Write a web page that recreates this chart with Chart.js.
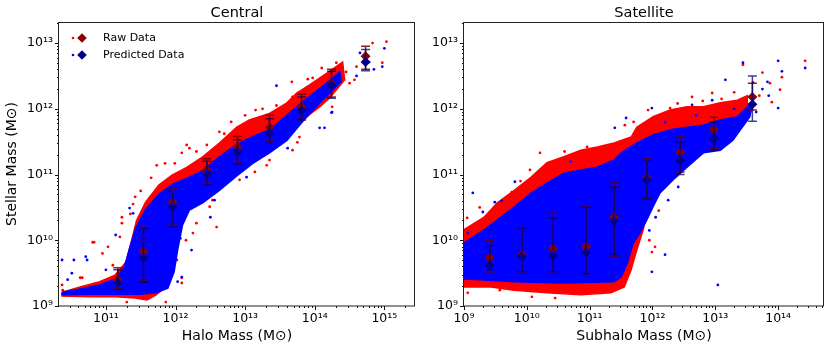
<!DOCTYPE html>
<html><head><meta charset="utf-8">
<script src="https://cdn.jsdelivr.net/npm/chart.js@4.4.1/dist/chart.umd.min.js"></script>
<style>
html,body{margin:0;padding:0;background:#fff;width:830px;height:350px;overflow:hidden}
#c1{position:absolute;left:0;top:0;width:420px;height:350px}
#c2{position:absolute;left:415px;top:0;width:415px;height:350px}
</style></head><body>
<div id="c1"><canvas id="left"></canvas></div>
<div id="c2"><canvas id="right"></canvas></div>
<script>
// ---------- text ----------
const panelTitles = ['Central', 'Satellite'];
const xAxisTitles = ['Halo Mass (M\u2299)', 'Subhalo Mass (M\u2299)'];
const yAxisTitle = 'Stellar Mass (M\u2299)';
const legendLabels = ['Raw Data', 'Predicted Data'];

// ---------- axis ranges (log10) ----------
const centralXRange = [10.326, 15.44];
const satXRange = [9.0, 14.73];
const yRange = [9.0, 13.32];

// ---------- dense cloud outlines (log10 Mhalo, log10 Mstar) ----------
const centralRawEnv = [
[10.37,9.21],[10.63,9.29],[10.91,9.37],[11.13,9.47],[11.29,9.67],[11.37,10.00],[11.44,10.30],[11.57,10.58],[11.76,10.84],[11.95,10.99],[12.16,11.11],[12.39,11.27],[12.63,11.48],[12.88,11.72],[13.06,11.83],[13.35,11.93],[13.60,12.09],[13.74,12.24],[13.92,12.36],[14.17,12.54],[14.40,12.71],
[14.43,12.44],[14.21,12.16],[14.07,12.03],[13.82,11.83],[13.60,11.57],[13.35,11.37],[13.11,11.22],[12.88,11.02],[12.63,10.81],[12.39,10.61],[12.20,10.49],[12.09,10.31],[12.00,9.93],[11.95,9.55],[11.86,9.29],[11.72,9.17],[11.59,9.09],[11.42,9.12],[11.13,9.14],[10.77,9.14],[10.37,9.15]];
const centralPredEnv = [
[10.37,9.21],[10.63,9.26],[10.91,9.32],[11.13,9.41],[11.26,9.58],[11.34,9.88],[11.43,10.19],[11.57,10.47],[11.76,10.70],[11.95,10.85],[12.16,10.94],[12.39,11.06],[12.63,11.27],[12.88,11.46],[13.11,11.58],[13.35,11.68],[13.60,11.90],[13.82,12.10],[14.11,12.34],[14.36,12.56],
[14.38,12.41],[14.11,12.13],[13.82,11.80],[13.60,11.52],[13.35,11.33],[13.11,11.17],[12.88,10.98],[12.63,10.76],[12.39,10.57],[12.20,10.46],[12.10,10.23],[12.03,9.85],[11.98,9.52],[11.89,9.27],[11.72,9.20],[11.49,9.18],[11.13,9.18],[10.77,9.18],[10.37,9.17]];
const satRawEnv = [
[9.00,10.16],[9.32,10.35],[9.53,10.57],[9.80,10.76],[10.07,10.96],[10.32,11.18],[10.59,11.27],[10.86,11.37],[11.12,11.42],[11.39,11.48],[11.66,11.57],[11.75,11.72],[12.01,11.88],[12.28,11.98],[12.55,12.03],[12.81,12.03],[13.08,12.09],[13.35,12.13],[13.51,12.20],
[13.51,11.83],[13.28,11.57],[13.08,11.42],[12.81,11.42],[12.55,11.18],[12.33,10.96],[12.17,10.81],[12.01,10.61],[11.91,10.41],[11.85,10.15],[11.75,9.85],[11.66,9.55],[11.55,9.29],[11.34,9.20],[10.86,9.17],[10.32,9.20],[9.80,9.24],[9.43,9.29],[9.00,9.29]];
const satPredEnv = [
[9.00,9.96],[9.32,10.16],[9.53,10.31],[9.80,10.51],[10.07,10.72],[10.32,10.87],[10.59,11.02],[10.86,11.07],[11.12,11.11],[11.39,11.22],[11.50,11.33],[11.75,11.48],[12.01,11.60],[12.28,11.68],[12.55,11.72],[12.81,11.75],[13.08,11.83],[13.35,11.88],[13.51,12.03],[13.60,12.10],
[13.55,11.88],[13.28,11.52],[13.08,11.37],[12.81,11.33],[12.55,11.11],[12.33,10.92],[12.12,10.72],[12.01,10.51],[11.91,10.31],[11.80,10.11],[11.69,9.95],[11.60,9.65],[11.50,9.44],[11.39,9.37],[10.59,9.35],[9.80,9.37],[9.27,9.40],[9.00,9.41]];

// ---------- sparse individual galaxies outside the dense cloud ----------
const centralRawPts = [
[15.03,13.02],[14.97,12.70],[14.83,13.00],[14.57,12.44],[14.45,12.56],[14.50,12.39],[14.25,12.03],[13.67,12.41],[13.97,12.47],[13.68,12.18],
[12.16,11.45],[12.09,11.33],[11.73,11.14],[11.85,11.17],[11.82,10.51],[11.42,10.66],[11.39,10.55],[11.23,10.35],[11.03,9.90],[10.81,9.97],
[10.63,9.43],[10.37,9.32],[10.38,9.24],[11.30,9.06],[12.09,9.35],[12.09,9.43],[12.25,10.11],[12.30,10.26],[12.59,10.20],[12.49,10.51],
[12.92,10.92],[13.31,11.14],[13.68,11.37],[13.78,11.57],[13.11,11.37],[12.20,11.40],[11.99,11.17],[12.63,11.65],[13.15,11.98],[14.31,12.70],
[14.60,12.64],[12.99,11.57],[12.53,10.61],[13.14,11.04],[13.35,11.22],[13.75,11.49],[10.83,9.97],[10.66,9.43],[11.23,10.26],[11.86,9.06],
[11.44,9.14],[11.10,9.62],[10.95,9.80],[12.45,11.45],[12.80,11.80],[13.45,12.05],[13.90,12.45],[14.10,12.62],[12.02,9.70],[12.15,10.00],
[11.50,10.75],[11.65,10.95],[12.30,11.35],[12.70,11.62],[13.00,11.90],[13.25,12.00],[11.20,10.05],[11.35,10.40]];
const centralPredPts = [
[15.00,12.92],[14.97,12.64],[14.78,12.71],[14.35,12.41],[13.45,12.35],[14.25,11.95],[14.07,11.71],[14.14,11.71],[13.61,11.40],[13.02,10.96],
[12.09,9.44],[12.03,9.37],[10.37,9.70],[10.54,9.70],[10.51,9.50],[10.73,9.70],[10.60,9.24],[11.34,10.49],[11.39,10.41],[12.56,10.61],
[12.39,10.81],[12.82,11.07],[14.24,11.94],[10.71,9.75],[12.23,9.85],[12.50,10.35],[12.07,10.03],[11.14,10.08],[14.60,12.50],[14.20,12.30],
[13.90,12.00],[13.50,11.60],[12.70,11.10],[11.90,10.20],[11.00,9.55],[10.45,9.40],[14.65,12.85],[14.85,12.60],[13.20,11.45],[12.30,10.70]];
const satRawPts = [
[14.43,12.73],[14.06,12.48],[14.03,12.29],[13.87,12.39],[13.44,12.67],[12.95,12.24],[12.63,12.18],[12.28,12.01],[11.93,11.98],[11.56,11.75],
[11.28,11.42],[10.96,11.42],[10.21,11.33],[10.05,11.07],[9.76,10.73],[9.49,10.41],[9.41,10.35],[9.05,10.34],[9.13,10.19],[9.05,10.11],
[12.04,9.90],[11.99,9.82],[11.69,9.81],[11.40,9.58],[10.08,9.14],[10.45,9.12],[10.72,9.20],[11.20,9.20],[9.06,9.20],[9.57,9.24],
[13.70,12.20],[13.60,12.40],[13.30,12.25],[13.10,12.15],[12.80,12.12],[12.40,12.08],[11.70,11.80],[10.60,11.35],[9.90,10.90],[9.25,10.50],
[11.95,10.00],[12.10,10.45],[13.90,12.10],[13.75,12.55]];
const satPredPts = [
[14.00,12.73],[14.06,12.57],[14.00,12.01],[14.43,12.62],[13.83,12.41],[13.44,12.70],[13.16,12.44],[12.95,12.13],[12.63,12.06],[11.99,12.01],
[11.58,11.86],[11.40,11.71],[9.81,10.89],[9.14,10.72],[9.49,10.58],[9.30,10.43],[13.04,9.32],[11.99,9.52],[12.20,9.78],[12.25,10.61],
[12.41,10.81],[9.06,10.11],[9.02,9.50],[13.75,12.30],[13.65,11.95],[13.30,12.00],[12.70,11.90],[12.20,11.80],[10.70,11.20],[9.60,10.60],
[11.95,10.15],[12.05,10.35],[13.85,12.20]];

// ---------- binned means and spreads ----------
const centralBinX = [11.17, 11.54, 11.96, 12.45, 12.89, 13.35, 13.81, 14.24, 14.73];
const centralRawMean = [9.40, 9.82, 10.58, 11.07, 11.42, 11.72, 12.03, 12.39, 12.80];
const centralPredMean = [9.35, 9.73, 10.51, 11.01, 11.34, 11.63, 11.97, 12.36, 12.71];
const centralRawLo = [9.27, 9.39, 10.23, 10.87, 11.19, 11.52, 11.86, 12.18, 12.60];
const centralRawHi = [9.58, 10.22, 10.78, 11.24, 11.58, 11.90, 12.22, 12.60, 12.95];
const centralPredLo = [9.25, 9.36, 10.20, 10.84, 11.16, 11.48, 11.83, 12.16, 12.58];
const centralPredHi = [9.55, 10.18, 10.74, 11.20, 11.53, 11.85, 12.18, 12.57, 12.90];

const satBinX = [9.41, 9.92, 10.42, 10.94, 11.39, 11.91, 12.44, 12.98, 13.59];
const satRawMean = [9.73, 9.78, 9.87, 9.90, 10.35, 10.95, 11.34, 11.68, 12.18];
const satPredMean = [9.62, 9.75, 9.76, 9.81, 10.29, 10.92, 11.21, 11.54, 12.07];
const satRawLo = [9.50, 9.52, 9.52, 9.49, 9.76, 10.63, 11.04, 11.40, 11.98];
const satRawHi = [10.00, 10.19, 10.41, 10.52, 10.87, 11.25, 11.57, 11.87, 12.39];
const satPredLo = [9.55, 9.52, 9.52, 9.49, 9.79, 10.63, 11.00, 11.37, 11.81];
const satPredHi = [9.92, 10.19, 10.34, 10.50, 10.81, 11.20, 11.50, 11.80, 12.50];

// ---------- helpers ----------
const FONT = "'DejaVu Sans', sans-serif";
const RED = '#ff0000', BLUE = '#0000ff', DRED = '#8b0000', DBLUE = '#00008b';
const P = v => Math.pow(10, v);
const pts = arr => arr.map(([x, y]) => ({x: P(x), y: P(y)}));
const closed = arr => pts(arr.concat([arr[0]]));
const SUP = {'0':'\u2070','1':'\u00b9','2':'\u00b2','3':'\u00b3','4':'\u2074','5':'\u2075','6':'\u2076','7':'\u2077','8':'\u2078','9':'\u2079'};
const sup = n => String(n).split('').map(c => SUP[c]).join('');
const isPow10 = v => { const e = Math.log10(v); return Math.abs(e - Math.round(e)) < 1e-6; };

function logTicks(scale) {
  const t = [];
  const lo = Math.floor(Math.log10(scale.min)), hi = Math.ceil(Math.log10(scale.max));
  for (let e = lo; e <= hi; e++) for (let m = 1; m < 10; m++) {
    const v = m * Math.pow(10, e);
    if (v >= scale.min * 0.9999 && v <= scale.max * 1.0001) t.push({value: v});
  }
  scale.ticks = t;
}

// Chart.js draws lower "order" on top, so the drawing order is set explicitly
function datasets(rawEnv, predEnv, rawPts, predPts, binX, rawMean, predMean) {
  const poly = (d, c, o) => ({type: 'line', data: closed(d), fill: 'shape', backgroundColor: c,
    borderColor: c, borderWidth: 1.5, pointRadius: 0, tension: 0, clip: 0, order: o});
  const sc = (d, c, o) => ({type: 'scatter', data: pts(d), backgroundColor: c, borderWidth: 0,
    pointRadius: 1.4, pointStyle: 'circle', clip: 0, order: o});
  const mean = (y, c, o) => ({type: 'scatter', data: binX.map((x, i) => ({x: P(x), y: P(y[i])})),
    backgroundColor: c, borderWidth: 0, pointRadius: 5, pointStyle: 'rectRot', clip: false, order: o});
  return [poly(rawEnv, RED, 6), sc(rawPts, RED, 5), poly(predEnv, BLUE, 4), sc(predPts, BLUE, 3),
          mean(rawMean, DRED, 2), mean(predMean, DBLUE, 1)];
}

// ---------- plugins ----------
const frameTicks = {
  id: 'frameTicks',
  afterDraw(chart) {
    const ctx = chart.ctx, a = chart.chartArea;
    ctx.save();
    ctx.strokeStyle = '#111'; ctx.lineWidth = 1;
    const xs = chart.scales.x, ys = chart.scales.y;
    xs.ticks.forEach(t => {
      const p = Math.round(xs.getPixelForValue(t.value)) + 0.5;
      const L = isPow10(t.value) ? 4 : 2;
      ctx.beginPath(); ctx.moveTo(p, a.bottom); ctx.lineTo(p, a.bottom + L); ctx.stroke();
    });
    ys.ticks.forEach(t => {
      const p = Math.round(ys.getPixelForValue(t.value)) + 0.5;
      const L = isPow10(t.value) ? 4 : 2;
      ctx.beginPath(); ctx.moveTo(a.left, p); ctx.lineTo(a.left - L, p); ctx.stroke();
    });
    ctx.strokeStyle = '#222';
    ctx.strokeRect(Math.round(a.left) - 0.5, Math.round(a.top) + 0.5,
                   Math.round(a.right - a.left), Math.round(a.bottom - a.top) - 0.5);
    // panel title
    const o = chart.options.plugins.frameTicks;
    ctx.fillStyle = '#000'; ctx.font = '14.5px ' + FONT;
    ctx.textAlign = 'center'; ctx.textBaseline = 'middle';
    ctx.fillText(o.title, (a.left + a.right) / 2, 13);
    ctx.restore();
  }
};

const errBars = {
  id: 'errBars',
  beforeDatasetDraw(chart, args, opts) {
    (opts.sets || []).forEach(s => {
      if (s.ds !== args.index) return;
      const ctx = chart.ctx, xs = chart.scales.x, ys = chart.scales.y;
      ctx.save(); ctx.strokeStyle = s.color; ctx.lineWidth = 1.5;
      s.x.forEach((x, i) => {
        const px = xs.getPixelForValue(P(x));
        const y1 = ys.getPixelForValue(P(s.lo[i])), y2 = ys.getPixelForValue(P(s.hi[i]));
        ctx.beginPath();
        ctx.moveTo(px, y1); ctx.lineTo(px, y2);
        ctx.moveTo(px - 4.5, y1); ctx.lineTo(px + 4.5, y1);
        ctx.moveTo(px - 4.5, y2); ctx.lineTo(px + 4.5, y2);
        ctx.stroke();
      });
      ctx.restore();
    });
  }
};

const legendBox = {
  id: 'legendBox',
  afterDraw(chart, args, opts) {
    if (!opts.show) return;
    const ctx = chart.ctx;
    const rows = [[legendLabels[0], RED, DRED, 38], [legendLabels[1], BLUE, DBLUE, 55]];
    ctx.save();
    rows.forEach(([label, c1, c2, y]) => {
      ctx.fillStyle = c1; ctx.beginPath(); ctx.arc(73, y, 1.3, 0, 2 * Math.PI); ctx.fill();
      ctx.fillStyle = c2; ctx.beginPath();
      ctx.moveTo(82, y - 4.8); ctx.lineTo(86.8, y); ctx.lineTo(82, y + 4.8); ctx.lineTo(77.2, y);
      ctx.closePath(); ctx.fill();
      ctx.fillStyle = '#000'; ctx.font = '11px ' + FONT;
      ctx.textAlign = 'left'; ctx.textBaseline = 'middle';
      ctx.fillText(label, 103, y);
    });
    ctx.restore();
  }
};

function makeChart(id, cfg) {
  const xr = cfg.xRange;
  return new Chart(document.getElementById(id), {
    data: {datasets: cfg.datasets},
    options: {
      responsive: true, maintainAspectRatio: false, animation: false, events: [],
      layout: {padding: {top: 22, right: cfg.padRight, left: 0, bottom: 0}},
      scales: {
        x: {
          type: 'logarithmic', position: 'bottom', min: P(xr[0]), max: P(xr[1]),
          afterBuildTicks: logTicks,
          afterFit: s => { s.height = 44; },
          grid: {display: false, drawTicks: false},
          border: {display: false},
          ticks: {autoSkip: false, maxRotation: 0, padding: 5, color: '#000',
                  font: {family: FONT, size: 12.5},
                  callback: v => isPow10(v) ? '10' + sup(Math.round(Math.log10(v))) : ''},
          title: {display: true, text: cfg.xTitle, color: '#000', font: {family: FONT, size: 14},
                  padding: {top: 0, bottom: 5}}
        },
        y: {
          type: 'logarithmic', position: 'left', min: P(yRange[0]), max: P(yRange[1]),
          afterBuildTicks: logTicks,
          afterFit: s => { s.width = cfg.yWidth; },
          grid: {display: false, drawTicks: false},
          border: {display: false},
          ticks: {autoSkip: false, padding: 6, color: '#000',
                  font: {family: FONT, size: 12.5},
                  callback: v => isPow10(v) ? '10' + sup(Math.round(Math.log10(v))) : ''},
          title: {display: cfg.yTitle !== '', text: cfg.yTitle, color: '#000',
                  font: {family: FONT, size: 14}, padding: {top: 4, bottom: 0}}
        }
      },
      plugins: {
        legend: {display: false}, tooltip: {enabled: false},
        frameTicks: {title: cfg.title},
        legendBox: {show: cfg.legend},
        errBars: {sets: cfg.errSets}
      }
    },
    plugins: [frameTicks, errBars, legendBox]
  });
}

makeChart('left', {
  title: panelTitles[0], xTitle: xAxisTitles[0], yTitle: yAxisTitle, legend: true,
  xRange: centralXRange, padRight: 4, yWidth: 59,
  datasets: datasets(centralRawEnv, centralPredEnv, centralRawPts, centralPredPts, centralBinX, centralRawMean, centralPredMean),
  errSets: [
    {ds: 4, x: centralBinX, lo: centralRawLo, hi: centralRawHi, color: 'rgba(110,0,0,0.85)'},
    {ds: 5, x: centralBinX, lo: centralPredLo, hi: centralPredHi, color: 'rgba(0,0,110,0.75)'}
  ]
});
makeChart('right', {
  title: panelTitles[1], xTitle: xAxisTitles[1], yTitle: '', legend: false,
  xRange: satXRange, padRight: 6, yWidth: 49,
  datasets: datasets(satRawEnv, satPredEnv, satRawPts, satPredPts, satBinX, satRawMean, satPredMean),
  errSets: [
    {ds: 4, x: satBinX, lo: satRawLo, hi: satRawHi, color: 'rgba(110,0,0,0.85)'},
    {ds: 5, x: satBinX, lo: satPredLo, hi: satPredHi, color: 'rgba(0,0,110,0.75)'}
  ]
});
</script>
</body></html>
